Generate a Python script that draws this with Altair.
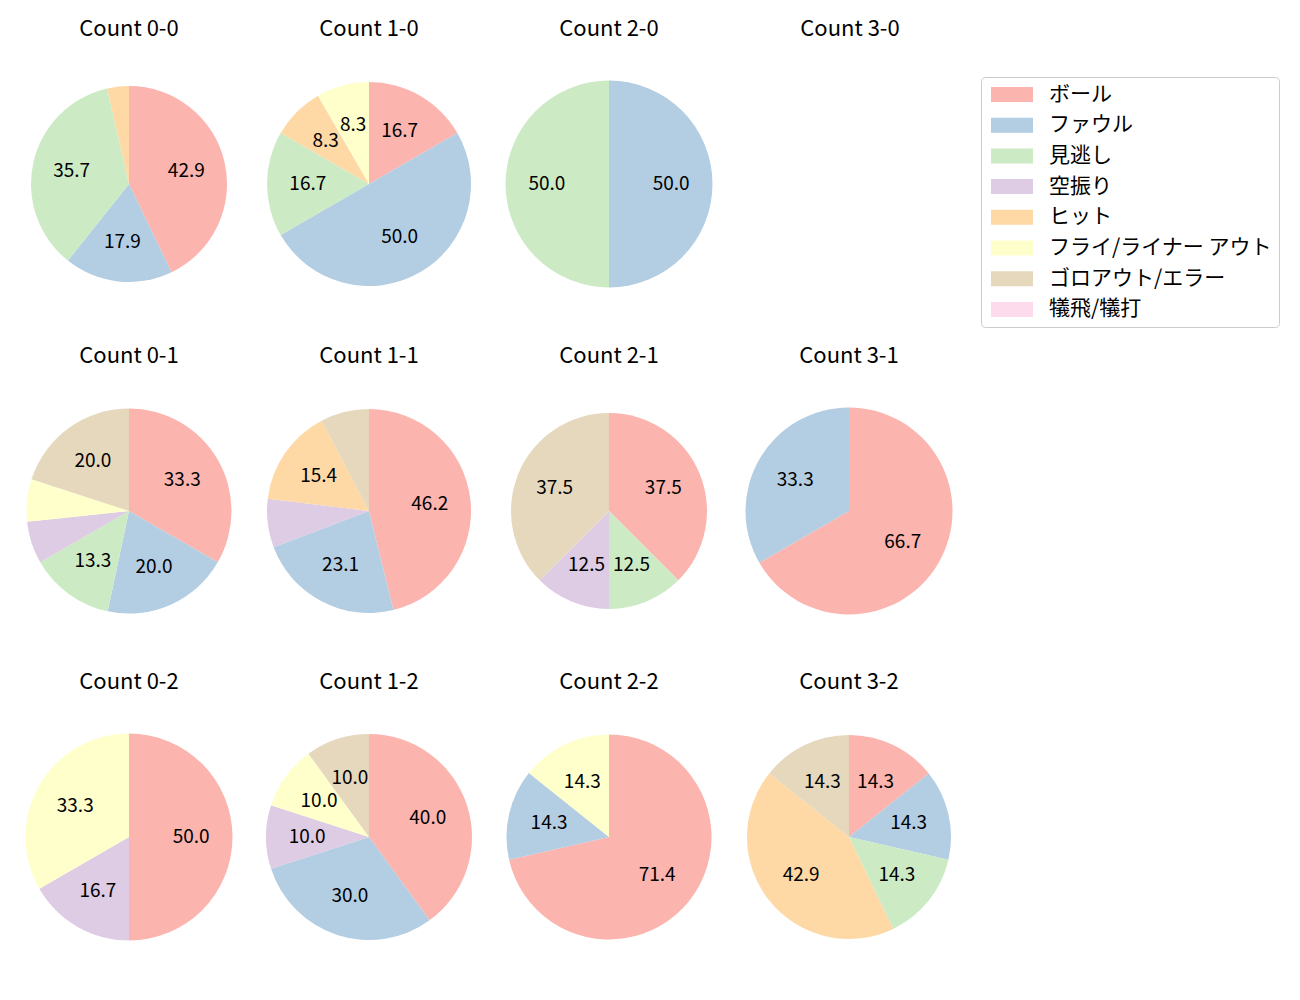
import altair as alt
import pandas as pd

categories = ["ボール", "ファウル", "見逃し", "空振り", "ヒット",
              "フライ/ライナー アウト", "ゴロアウト/エラー", "犠飛/犠打"]
colors = ["#fbb4ae", "#b3cde3", "#ccebc5", "#decbe4", "#fed9a6",
          "#ffffcc", "#e5d8bd", "#fddaec"]

panel_rows = [["0-0", "1-0", "2-0", "3-0"],
              ["0-1", "1-1", "2-1", "3-1"],
              ["0-2", "1-2", "2-2", "3-2"]]

counts = {
    "0-0": [12, 5, 10, 0, 1, 0, 0, 0],
    "1-0": [2, 6, 2, 0, 1, 1, 0, 0],
    "2-0": [0, 1, 1, 0, 0, 0, 0, 0],
    "3-0": [0, 0, 0, 0, 0, 0, 0, 0],
    "0-1": [5, 3, 2, 1, 0, 1, 3, 0],
    "1-1": [6, 3, 0, 1, 2, 0, 1, 0],
    "2-1": [3, 0, 1, 1, 0, 0, 3, 0],
    "3-1": [2, 1, 0, 0, 0, 0, 0, 0],
    "0-2": [3, 0, 0, 1, 0, 2, 0, 0],
    "1-2": [4, 3, 0, 1, 0, 1, 1, 0],
    "2-2": [5, 1, 0, 0, 0, 1, 0, 0],
    "3-2": [1, 1, 1, 0, 3, 0, 1, 0],
}

radii = {"0-0": 98, "1-0": 102, "2-0": 103.5, "3-0": 103,
         "0-1": 102.5, "1-1": 102, "2-1": 98, "3-1": 103.5,
         "0-2": 103.5, "1-2": 103, "2-2": 102.5, "3-2": 102}

FONT = "Noto Sans CJK JP"
W = 208

color_scale = alt.Scale(domain=categories, range=colors)


def panel(key):
    vals = counts[key]
    total = sum(vals)
    title = alt.TitleParams(f"Count {key}", fontSize=22, font=FONT,
                            fontWeight="normal", baseline="bottom", offset=17)
    if total == 0:
        return alt.Chart(pd.DataFrame({"a": [0]})).mark_text(text=" ").encode(
            x=alt.value(W / 2), y=alt.value(W / 2)
        ).properties(width=W, height=W, title=title)
    rows = []
    for i, (c, v) in enumerate(zip(categories, vals)):
        if v > 0:
            pct = v / total * 100
            rows.append({"cat": c, "idx": i, "value": v,
                         "label": f"{pct:.1f}" if pct >= 8 else ""})
    df = pd.DataFrame(rows)
    r = radii[key]
    base = alt.Chart(df).encode(
        theta=alt.Theta("value:Q", stack=True),
        order=alt.Order("idx:Q"),
    )
    arcs = base.mark_arc(outerRadius=r).encode(
        color=alt.Color("cat:N", scale=color_scale,
                        legend=alt.Legend(title=None, orient="none",
                                          legendX=956, legendY=-3)),
    )
    text = base.mark_text(radius=r * 0.6, fontSize=19, font=FONT,
                          color="black").encode(text="label:N")
    return alt.layer(arcs, text).properties(width=W, height=W, title=title)


rows = [alt.hconcat(*[panel(k) for k in row], spacing=32) for row in panel_rows]
chart = alt.vconcat(*rows, spacing=56).properties(
    padding={"left": 17, "top": 9, "right": 5, "bottom": 5}
).configure_view(stroke="transparent").configure_legend(
    labelFont=FONT, labelFontSize=21, labelColor="black", labelLimit=400,
    symbolType="M-1,-1H4.6V1H-1Z", symbolSize=225, symbolStrokeWidth=0,
    symbolOpacity=1, labelOffset=40, rowPadding=8.7, padding=7,
    strokeColor="#cccccc", cornerRadius=4, fillColor="white",
).resolve_scale(color="shared")

chart.save("out.html", embed_options={"renderer": "svg", "actions": False})
